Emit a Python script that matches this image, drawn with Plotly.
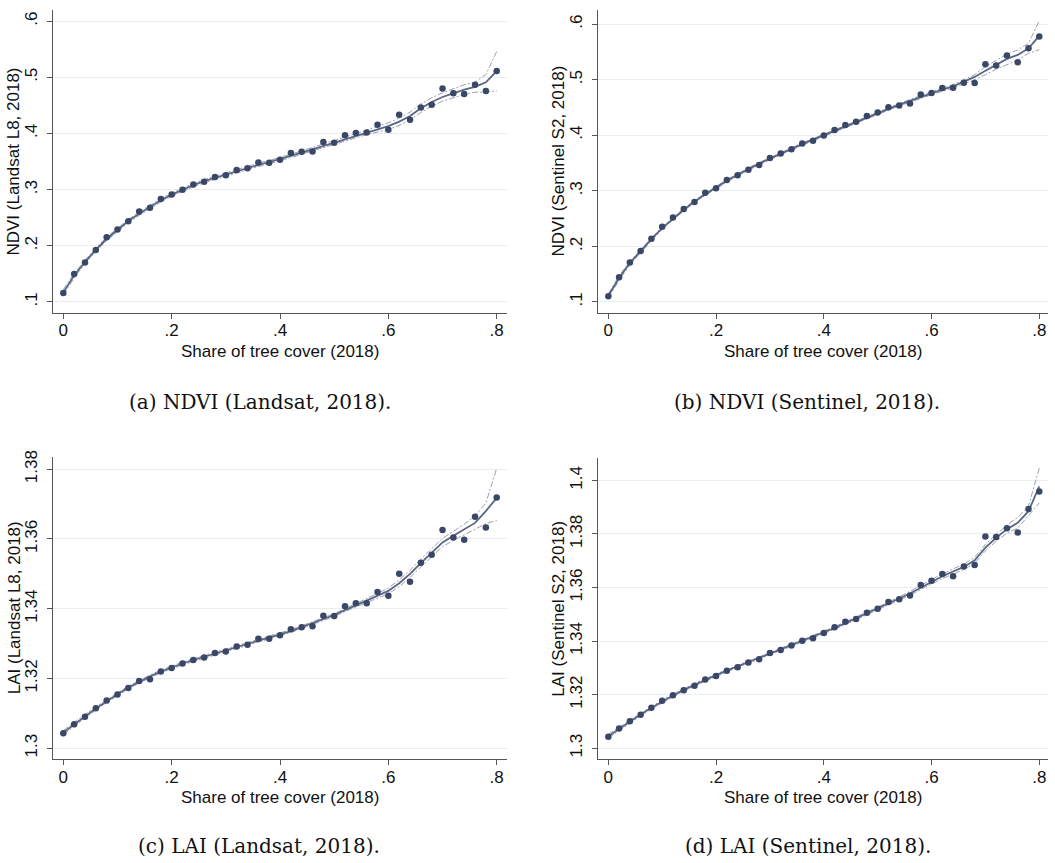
import plotly.graph_objects as go

# Share of tree cover bins (2018)
tree_share = [0.00, 0.02, 0.04, 0.06, 0.08, 0.10, 0.12, 0.14, 0.16, 0.18,
              0.20, 0.22, 0.24, 0.26, 0.28, 0.30, 0.32, 0.34, 0.36, 0.38,
              0.40, 0.42, 0.44, 0.46, 0.48, 0.50, 0.52, 0.54, 0.56, 0.58,
              0.60, 0.62, 0.64, 0.66, 0.68, 0.70, 0.72, 0.74, 0.76, 0.78, 0.80]

# (a) NDVI, Landsat L8
ndvi_l8 = [0.116, 0.1495, 0.170, 0.1925, 0.215, 0.229, 0.2437, 0.2608, 0.2678, 0.2832,
           0.2914, 0.2996, 0.309, 0.3138, 0.3226, 0.3256, 0.335, 0.338, 0.3485, 0.348,
           0.3532, 0.365, 0.3674, 0.368, 0.385, 0.3833, 0.3968, 0.401, 0.4015, 0.4157,
           0.4068, 0.4333, 0.4245, 0.4463, 0.451, 0.4799, 0.4716, 0.4704, 0.4869, 0.4757, 0.5111]
ndvi_l8_fit = [0.117, 0.147, 0.171, 0.193, 0.212, 0.228, 0.244, 0.257, 0.269, 0.281,
               0.291, 0.300, 0.308, 0.315, 0.321, 0.327, 0.333, 0.339, 0.344, 0.349,
               0.354, 0.360, 0.366, 0.372, 0.378, 0.384, 0.390, 0.396, 0.402, 0.4075,
               0.413, 0.421, 0.431, 0.445, 0.456, 0.465, 0.472, 0.478, 0.483, 0.491, 0.511]
ndvi_l8_hi = [0.122, 0.151, 0.174, 0.196, 0.215, 0.231, 0.247, 0.260, 0.272, 0.284,
              0.294, 0.303, 0.311, 0.318, 0.324, 0.330, 0.336, 0.342, 0.347, 0.352,
              0.357, 0.363, 0.369, 0.375, 0.381, 0.387, 0.393, 0.3995, 0.406, 0.4125,
              0.419, 0.4275, 0.438, 0.4525, 0.4635, 0.4725, 0.480, 0.4865, 0.4915, 0.505, 0.546]
ndvi_l8_lo = [0.112, 0.143, 0.168, 0.190, 0.209, 0.225, 0.241, 0.254, 0.266, 0.278,
              0.288, 0.297, 0.305, 0.312, 0.318, 0.324, 0.330, 0.336, 0.341, 0.346,
              0.351, 0.357, 0.363, 0.369, 0.375, 0.381, 0.387, 0.3925, 0.398, 0.4025,
              0.407, 0.4145, 0.424, 0.4375, 0.4485, 0.4575, 0.464, 0.4695, 0.4735, 0.4735, 0.476]

# (b) NDVI, Sentinel S2
ndvi_s2 = [0.110, 0.1446, 0.1708, 0.1917, 0.2137, 0.2351, 0.2518, 0.2673, 0.2798, 0.2964,
           0.3048, 0.3196, 0.328, 0.3381, 0.3464, 0.3589, 0.3673, 0.375, 0.3851, 0.3899,
           0.3994, 0.4095, 0.4185, 0.4244, 0.4345, 0.4411, 0.4506, 0.4536, 0.4571, 0.4732,
           0.4762, 0.4851, 0.4857, 0.4946, 0.494, 0.528, 0.5256, 0.5435, 0.5315, 0.5565, 0.578]
ndvi_s2_fit = [0.111, 0.143, 0.170, 0.192, 0.213, 0.233, 0.250, 0.266, 0.281, 0.294,
               0.306, 0.318, 0.329, 0.339, 0.349, 0.358, 0.367, 0.376, 0.384, 0.392,
               0.400, 0.408, 0.416, 0.424, 0.432, 0.440, 0.448, 0.455, 0.462, 0.469,
               0.476, 0.482, 0.488, 0.496, 0.505, 0.516, 0.527, 0.5375, 0.5446, 0.5565, 0.579]
ndvi_s2_hi = [0.115, 0.147, 0.173, 0.195, 0.215, 0.235, 0.252, 0.268, 0.283, 0.296,
              0.308, 0.320, 0.331, 0.341, 0.351, 0.360, 0.369, 0.378, 0.386, 0.394,
              0.402, 0.410, 0.418, 0.426, 0.434, 0.442, 0.450, 0.457, 0.4645, 0.4715,
              0.479, 0.485, 0.491, 0.4995, 0.509, 0.5235, 0.535, 0.546, 0.5536, 0.5654, 0.606]
ndvi_s2_lo = [0.107, 0.139, 0.167, 0.189, 0.211, 0.231, 0.248, 0.264, 0.279, 0.292,
              0.304, 0.316, 0.327, 0.337, 0.347, 0.356, 0.365, 0.374, 0.382, 0.390,
              0.398, 0.406, 0.414, 0.422, 0.430, 0.438, 0.446, 0.453, 0.4595, 0.4665,
              0.473, 0.479, 0.485, 0.4925, 0.500, 0.509, 0.519, 0.527, 0.5357, 0.5475, 0.554]

# (c) LAI, Landsat L8
lai_l8 = [1.3043, 1.3069, 1.3090, 1.3115, 1.3137, 1.3154, 1.3173, 1.3193, 1.3198, 1.3220,
          1.3230, 1.3243, 1.3253, 1.3260, 1.3273, 1.3277, 1.3292, 1.3297, 1.3314, 1.3314,
          1.3324, 1.3341, 1.3347, 1.3350, 1.3380, 1.3379, 1.3407, 1.3416, 1.3416, 1.3448,
          1.3437, 1.3500, 1.3477, 1.3532, 1.3555, 1.3626, 1.3604, 1.3598, 1.3664, 1.3633, 1.3719]
lai_l8_fit = [1.3045, 1.3069, 1.3091, 1.3114, 1.3135, 1.3155, 1.3174, 1.3191, 1.3206, 1.3220,
              1.3232, 1.3243, 1.3253, 1.3262, 1.3271, 1.3280, 1.3289, 1.3298, 1.3307, 1.3316,
              1.3326, 1.3336, 1.3347, 1.3358, 1.3370, 1.3382, 1.3396, 1.3410, 1.3423, 1.3436,
              1.3451, 1.3473, 1.3500, 1.3531, 1.3561, 1.3590, 1.3609, 1.3627, 1.3646, 1.3680, 1.3718]
lai_l8_hi = [1.3051, 1.3075, 1.3097, 1.3118, 1.3139, 1.3159, 1.3178, 1.3195, 1.3210, 1.3224,
             1.3236, 1.3247, 1.3257, 1.3266, 1.3275, 1.3284, 1.3293, 1.3302, 1.3311, 1.3320,
             1.3330, 1.3340, 1.3351, 1.3362, 1.3374, 1.3386, 1.3400, 1.3415, 1.3429, 1.3443,
             1.3459, 1.3483, 1.3510, 1.3542, 1.3573, 1.3602, 1.3622, 1.3642, 1.3666, 1.3703, 1.3803]
lai_l8_lo = [1.3039, 1.3063, 1.3085, 1.3110, 1.3131, 1.3151, 1.3170, 1.3187, 1.3202, 1.3216,
             1.3228, 1.3239, 1.3249, 1.3258, 1.3267, 1.3276, 1.3285, 1.3294, 1.3303, 1.3312,
             1.3322, 1.3332, 1.3343, 1.3354, 1.3366, 1.3378, 1.3392, 1.3405, 1.3417, 1.3429,
             1.3443, 1.3463, 1.3490, 1.3520, 1.3549, 1.3578, 1.3596, 1.3612, 1.3630, 1.3644, 1.3653]

# (d) LAI, Sentinel S2
lai_s2 = [1.3043, 1.3074, 1.3101, 1.3125, 1.3151, 1.3177, 1.3198, 1.3217, 1.3233, 1.3257,
          1.3270, 1.3289, 1.3302, 1.3320, 1.3332, 1.3356, 1.3367, 1.3384, 1.3401, 1.3411,
          1.3430, 1.3452, 1.3472, 1.3483, 1.3506, 1.3521, 1.3546, 1.3556, 1.3570, 1.3610,
          1.3625, 1.3651, 1.3642, 1.3679, 1.3684, 1.3791, 1.3789, 1.3821, 1.3806, 1.3893, 1.3959]
lai_s2_fit = [1.3045, 1.3073, 1.3100, 1.3126, 1.3151, 1.3175, 1.3197, 1.3218, 1.3237, 1.3256,
              1.3273, 1.3290, 1.3306, 1.3321, 1.3336, 1.3352, 1.3368, 1.3384, 1.3400, 1.3415,
              1.3431, 1.3449, 1.3467, 1.3485, 1.3503, 1.3522, 1.3541, 1.3559, 1.3578, 1.3600,
              1.3622, 1.3642, 1.3660, 1.3677, 1.3702, 1.3749, 1.3786, 1.3818, 1.3842, 1.3885, 1.3978]
lai_s2_hi = [1.3052, 1.3080, 1.3105, 1.3131, 1.3156, 1.3180, 1.3202, 1.3223, 1.3242, 1.3261,
             1.3278, 1.3295, 1.3311, 1.3326, 1.3341, 1.3357, 1.3373, 1.3389, 1.3405, 1.3420,
             1.3436, 1.3454, 1.3472, 1.3490, 1.3508, 1.3527, 1.3546, 1.3565, 1.3585, 1.3607,
             1.3630, 1.3651, 1.3670, 1.3687, 1.3713, 1.3761, 1.3799, 1.3833, 1.3862, 1.3904, 1.4046]
lai_s2_lo = [1.3038, 1.3066, 1.3095, 1.3121, 1.3146, 1.3170, 1.3192, 1.3213, 1.3232, 1.3251,
             1.3268, 1.3285, 1.3301, 1.3316, 1.3331, 1.3347, 1.3363, 1.3379, 1.3395, 1.3410,
             1.3426, 1.3444, 1.3462, 1.3480, 1.3498, 1.3517, 1.3536, 1.3553, 1.3571, 1.3593,
             1.3614, 1.3633, 1.3650, 1.3667, 1.3691, 1.3737, 1.3773, 1.3803, 1.3822, 1.3867, 1.3916]

x_tickvals = [0, 0.2, 0.4, 0.6, 0.8]
x_ticktext = ["0", ".2", ".4", ".6", ".8"]
ndvi_tickvals = [0.1, 0.2, 0.3, 0.4, 0.5, 0.6]
ndvi_ticktext = [".1", ".2", ".3", ".4", ".5", ".6"]
lai_l8_tickvals = [1.30, 1.32, 1.34, 1.36, 1.38]
lai_l8_ticktext = ["1.3", "1.32", "1.34", "1.36", "1.38"]
lai_s2_tickvals = [1.30, 1.32, 1.34, 1.36, 1.38, 1.40]
lai_s2_ticktext = ["1.3", "1.32", "1.34", "1.36", "1.38", "1.4"]
x_title = "Share of tree cover (2018)"

panels = [
    dict(y=ndvi_l8, fit=ndvi_l8_fit, hi=ndvi_l8_hi, lo=ndvi_l8_lo,
         ytitle="NDVI (Landsat L8, 2018)", tv=ndvi_tickvals, tt=ndvi_ticktext,
         caption="(a) NDVI (Landsat, 2018)."),
    dict(y=ndvi_s2, fit=ndvi_s2_fit, hi=ndvi_s2_hi, lo=ndvi_s2_lo,
         ytitle="NDVI (Sentinel S2, 2018)", tv=ndvi_tickvals, tt=ndvi_ticktext,
         caption="(b) NDVI (Sentinel, 2018)."),
    dict(y=lai_l8, fit=lai_l8_fit, hi=lai_l8_hi, lo=lai_l8_lo,
         ytitle="LAI (Landsat L8, 2018)", tv=lai_l8_tickvals, tt=lai_l8_ticktext,
         caption="(c) LAI (Landsat, 2018)."),
    dict(y=lai_s2, fit=lai_s2_fit, hi=lai_s2_hi, lo=lai_s2_lo,
         ytitle="LAI (Sentinel S2, 2018)", tv=lai_s2_tickvals, tt=lai_s2_ticktext,
         caption="(d) LAI (Sentinel, 2018)."),
]

W, H = 1055, 863
# plot-area boxes in pixels: (left, right, top, bottom)
boxes = [(53.3, 507, 3.3, 308.3), (598.3, 1048, 3.3, 308.3),
         (53.3, 507, 454, 758.3), (598.3, 1048, 455, 758.3)]
x_ranges = [[-0.0185, 0.819], [-0.0186, 0.8162], [-0.0185, 0.819], [-0.0186, 0.8162]]
y_ranges = [[0.0806, 0.6194], [0.0804, 0.625], [1.29687, 1.38341], [1.29593, 1.40826]]
caption_pos = [(260, 398), (807, 398), (259, 846), (808, 846)]
xtitle_y = [347, 347, 797, 797]
ytitle_x = [14, 559, 14, 559]

DOT = "#3b4767"
FIT = "#5b6685"
CI = "#8e93a6"
AXIS = "#555555"
GRID = "#e6eef0"
SANS = "Liberation Sans, Arial, sans-serif"
SERIF = "DejaVu Serif"

fig = go.Figure()
layout = dict(
    width=W, height=H, margin=dict(l=0, r=0, t=0, b=0),
    paper_bgcolor="white", plot_bgcolor="white", showlegend=False,
    font=dict(family=SANS, size=17, color="#111111"),
    annotations=[],
)

for i, p in enumerate(panels):
    n = "" if i == 0 else str(i + 1)
    xa, ya = "x" + n, "y" + n
    for band in (p["hi"], p["lo"]):
        fig.add_trace(go.Scatter(x=tree_share, y=band, mode="lines", xaxis=xa, yaxis=ya,
                                 line=dict(color=CI, width=0.9, dash="6px,2px,2px,2px")))
    fig.add_trace(go.Scatter(x=tree_share, y=p["fit"], mode="lines", xaxis=xa, yaxis=ya,
                             line=dict(color=FIT, width=1.8)))
    fig.add_trace(go.Scatter(x=tree_share, y=p["y"], mode="markers", xaxis=xa, yaxis=ya,
                             marker=dict(color=DOT, size=6.5, line=dict(width=0))))

    l, r, t, b = boxes[i]
    layout["xaxis" + n] = dict(
        domain=[l / W, r / W], range=x_ranges[i], anchor=ya,
        tickvals=x_tickvals, ticktext=x_ticktext, ticks="outside", ticklen=5,
        ticklabelstandoff=-3,
        tickcolor=AXIS, showline=True, linecolor=AXIS, linewidth=1,
        showgrid=False, zeroline=False, tickfont=dict(size=17),
    )
    layout["yaxis" + n] = dict(
        domain=[1 - b / H, 1 - t / H], range=y_ranges[i], anchor=xa,
        tickvals=p["tv"], ticktext=p["tt"], tickangle=-90, ticks="outside", ticklen=5,
        ticklabelstandoff=4,
        tickcolor=AXIS, showline=True, linecolor=AXIS, linewidth=1,
        showgrid=True, gridcolor=GRID, gridwidth=1, zeroline=False,
        tickfont=dict(size=17),
    )
    # axis titles
    layout["annotations"].append(dict(
        text=x_title, x=(l + r) / 2 / W, y=1 - xtitle_y[i] / H, xref="paper", yref="paper",
        xanchor="center", yanchor="middle", showarrow=False, font=dict(size=17),
    ))
    layout["annotations"].append(dict(
        text=p["ytitle"], x=ytitle_x[i] / W, y=1 - (t + b) / 2 / H, xref="paper", yref="paper",
        xanchor="center", yanchor="middle", showarrow=False, textangle=-90, font=dict(size=17),
    ))
    # panel caption
    cx, cy = caption_pos[i]
    layout["annotations"].append(dict(
        text=p["caption"], x=cx / W, y=1 - cy / H, xref="paper", yref="paper",
        xanchor="center", yanchor="middle", showarrow=False,
        font=dict(family=SERIF, size=20, color="#111111"),
    ))

fig.update_layout(**layout)
fig.write_html("out.html")
